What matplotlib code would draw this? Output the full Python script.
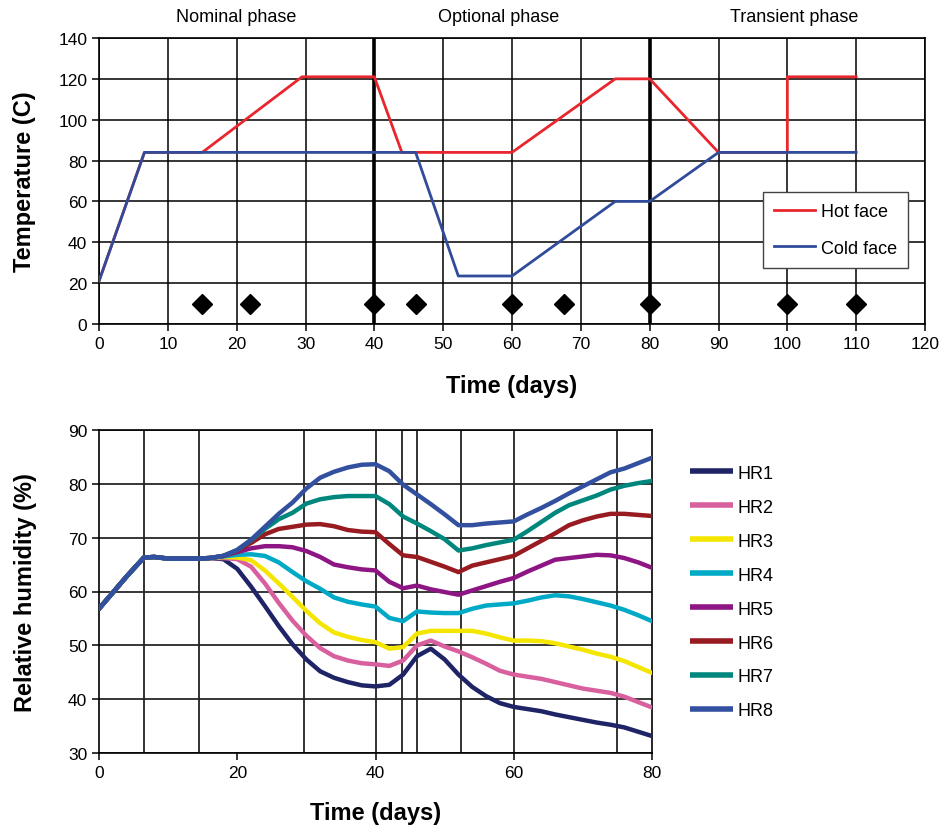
import matplotlib
matplotlib.use("Agg")
import matplotlib.pyplot as plt
import numpy as np

plt.rcParams['font.family'] = ['Liberation Sans', 'DejaVu Sans']

# ---------------- Top chart data ----------------
hot_days = [0, 6.6, 15, 29.5, 40, 44, 60, 75, 80, 90, 100, 100, 110]
hot_temp = [21, 84, 84, 121, 121, 84, 84, 120, 120, 84, 84, 121, 121]
cold_days = [0, 6.6, 46, 52.2, 60, 75, 80, 90, 110]
cold_temp = [21, 84, 84, 23.5, 23.5, 60, 60, 84, 84]
sample_days = [15, 22, 40, 46, 60, 67.5, 80, 100, 110]
sample_temp = [10, 10, 10, 10, 10, 10, 10, 10, 10]
phase_lines = [40, 80]
phase_labels = ["Nominal phase", "Optional phase", "Transient phase"]
phase_label_x = [20, 58, 101]

# ---------------- Bottom chart data ----------------
hr_days = [0, 2, 4, 6.5, 8, 10, 14, 16, 18, 20, 22, 24, 26, 28, 30, 32, 34, 36, 38, 40,
           42, 44, 46, 48, 50, 52, 54, 56, 58, 60, 62, 64, 66, 68, 70, 72, 74, 76, 78, 80]
early = [56.8, 59.8, 62.8, 66.3, 66.4, 66.1, 66.1, 66.2]
HR1 = early + [66.0, 64.2, 60.9, 57.3, 53.6, 50.2, 47.4, 45.2, 44.0, 43.2, 42.6, 42.4,
               42.7, 44.6, 48.0, 49.4, 47.4, 44.6, 42.3, 40.6, 39.3, 38.6, 38.2, 37.8,
               37.2, 36.7, 36.2, 35.7, 35.3, 34.8, 34.0, 33.2]
HR2 = early + [66.2, 66.0, 64.6, 61.5, 57.9, 54.6, 51.8, 49.5, 48.0, 47.2, 46.7, 46.5,
               46.2, 47.2, 50.0, 50.9, 49.8, 48.9, 47.8, 46.6, 45.3, 44.6, 44.2, 43.8,
               43.2, 42.6, 42.0, 41.6, 41.2, 40.5, 39.5, 38.5]
HR3 = early + [66.4, 66.3, 65.8, 63.9, 61.5, 59.0, 56.4, 54.1, 52.4, 51.6, 51.0, 50.6,
               49.4, 49.7, 52.2, 52.7, 52.7, 52.7, 52.7, 52.2, 51.5, 50.9, 50.9, 50.8,
               50.4, 49.8, 49.2, 48.5, 47.9, 47.1, 46.0, 44.9]
HR4 = early + [66.5, 66.8, 66.9, 66.6, 65.4, 63.6, 61.9, 60.5, 58.9, 58.1, 57.6, 57.2,
               55.1, 54.5, 56.3, 56.1, 56.0, 56.0, 56.8, 57.4, 57.6, 57.8, 58.3, 58.9,
               59.3, 59.1, 58.6, 58.0, 57.4, 56.6, 55.6, 54.5]
HR5 = early + [66.6, 67.3, 68.0, 68.4, 68.4, 68.2, 67.5, 66.4, 65.0, 64.5, 64.1, 63.9,
               61.8, 60.6, 61.1, 60.4, 59.9, 59.4, 60.2, 61.0, 61.8, 62.5, 63.7, 64.8,
               65.9, 66.2, 66.5, 66.8, 66.7, 66.2, 65.4, 64.4]
HR6 = early + [66.6, 67.6, 69.0, 70.6, 71.6, 72.0, 72.4, 72.5, 72.1, 71.4, 71.1, 71.0,
               68.8, 66.7, 66.4, 65.5, 64.6, 63.6, 64.8, 65.4, 66.0, 66.6, 68.0, 69.4,
               70.8, 72.3, 73.2, 73.9, 74.4, 74.4, 74.2, 74.0]
HR7 = early + [66.6, 67.7, 69.5, 71.6, 73.4, 74.6, 76.3, 77.1, 77.5, 77.7, 77.7, 77.7,
               76.2, 73.9, 72.6, 71.2, 69.7, 67.6, 68.0, 68.6, 69.1, 69.6, 71.2, 72.9,
               74.6, 76.0, 76.9, 77.8, 78.9, 79.6, 80.1, 80.5]
HR8 = early + [66.6, 67.7, 69.6, 72.0, 74.4, 76.5, 79.1, 81.1, 82.2, 83.0, 83.5, 83.6,
               82.3, 79.8, 78.0, 76.2, 74.3, 72.3, 72.3, 72.6, 72.8, 73.0, 74.3, 75.5,
               76.8, 78.2, 79.5, 80.8, 82.1, 82.8, 83.8, 84.8]
hr_series = [HR1, HR2, HR3, HR4, HR5, HR6, HR7, HR8]
hr_names = ["HR1", "HR2", "HR3", "HR4", "HR5", "HR6", "HR7", "HR8"]
hr_colors = ["#1f2466", "#d9609e", "#f5e600", "#00aac6", "#8e1584", "#981b22", "#00877d", "#3350a0"]
hr_vlines = [6.5, 14.5, 29.7, 40, 43.8, 46, 52.3, 60, 75]

fig = plt.figure(figsize=(9.39, 8.29), dpi=100)

# ---------------- Top axes ----------------
ax1 = fig.add_axes([99/939, 1-325/829, 826/939, 286/829])
ax1.set_xlim(0, 120)
ax1.set_ylim(0, 140)
ax1.set_xticks(np.arange(0, 121, 10))
ax1.set_yticks(np.arange(0, 141, 20))
ax1.grid(True, color='black', linewidth=1.1)
ax1.set_axisbelow(True)
for x in phase_lines:
    ax1.axvline(x, color='black', linewidth=2.6, zorder=1.5)
ax1.plot(hot_days, hot_temp, color='#e8262d', linewidth=2.0, label='Hot face', zorder=3)
ax1.plot(cold_days, cold_temp, color='#2f4b9a', linewidth=2.0, label='Cold face', zorder=3)
ax1.plot(sample_days, sample_temp, linestyle='none', marker='D', markersize=10,
         color='black', zorder=4)
for lbl, x in zip(phase_labels, phase_label_x):
    ax1.text(x, 1.075, lbl, transform=ax1.get_xaxis_transform(), ha='center',
             va='center', fontsize=13)
ax1.tick_params(labelsize=12.5, direction='out', length=5, width=1.1, color='black')
ax1.set_xlabel("Time (days)", fontsize=17, fontweight='bold', labelpad=17)
ax1.set_ylabel("Temperature (C)", fontsize=17, fontweight='bold', labelpad=16)
for s in ax1.spines.values():
    s.set_linewidth(1.2)
leg1 = ax1.legend(loc='upper left', bbox_to_anchor=((763-99)/826, (325-193)/286),
                  borderaxespad=0, fontsize=13, frameon=True, fancybox=False,
                  edgecolor='#444444', handlelength=2.3, handletextpad=0.3,
                  borderpad=0.6, labelspacing=1.1, framealpha=1)
leg1.get_frame().set_linewidth(1.0)

# ---------------- Bottom axes ----------------
ax2 = fig.add_axes([99/939, 1-754.3/829, 553/939, 323.6/829])
ax2.set_xlim(0, 80)
ax2.set_ylim(30, 90)
ax2.set_xticks(np.arange(0, 81, 20))
ax2.set_yticks(np.arange(30, 91, 10))
ax2.yaxis.grid(True, color='black', linewidth=1.1)
ax2.set_axisbelow(True)
for x in hr_vlines:
    ax2.axvline(x, color='#222222', linewidth=1.3, zorder=1.5)
for vals, name, col in zip(hr_series, hr_names, hr_colors):
    ax2.plot(hr_days, vals, color=col, linewidth=3.2, label=name, zorder=3,
             solid_joinstyle='round', solid_capstyle='round')
ax2.tick_params(labelsize=12.5, direction='out', length=5, width=1.1, color='black')
ax2.set_xlabel("Time (days)", fontsize=17, fontweight='bold', labelpad=15)
ax2.set_ylabel("Relative humidity (%)", fontsize=17, fontweight='bold', labelpad=22)
for s in ax2.spines.values():
    s.set_linewidth(1.2)
leg2 = ax2.legend(loc='upper left', bbox_to_anchor=((690-99)/553, 0.892),
                  borderaxespad=0, borderpad=0, fontsize=13, frameon=False,
                  handlelength=2.4, handletextpad=0.25, labelspacing=0.94)
for ln in leg2.get_lines():
    ln.set_linewidth(4)
    ln.set_solid_capstyle('butt')

fig.savefig("out.png", dpi=100)
